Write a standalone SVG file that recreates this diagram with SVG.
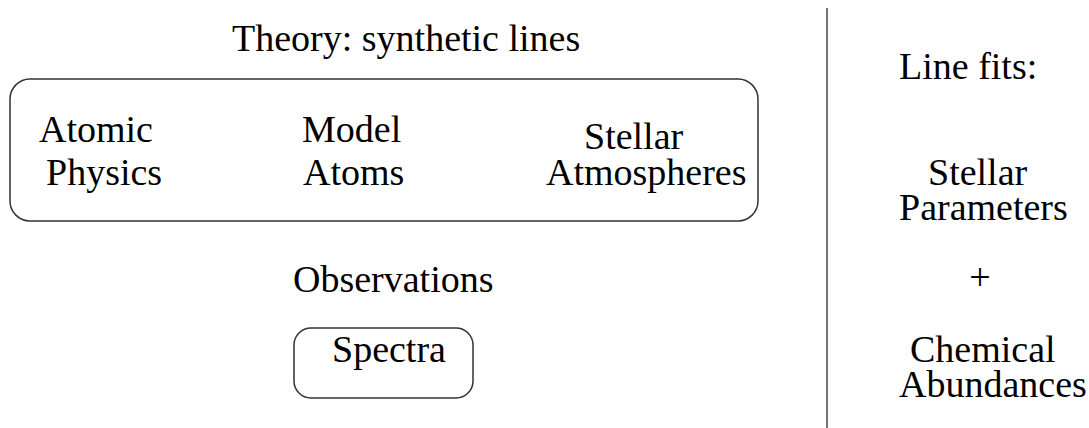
<svg xmlns="http://www.w3.org/2000/svg" width="1089" height="428" viewBox="0 0 1089 428">
  <style>
    text { font-family: 'Liberation Serif', 'DejaVu Serif', serif; font-size: 38px; fill: #000; }
    .box { fill: none; stroke: #333; stroke-width: 1.5; }
    .rule { stroke: #444; stroke-width: 1.5; }
  </style>
  <rect width="1089" height="428" fill="#fff"/>

  <g id="theory" font-family="Liberation Serif, serif">
    <text x="232" y="51">Theory: synthetic lines</text>
    <rect class="box" x="10" y="79" width="748" height="142" rx="20" ry="20"/>
    <g id="atomic-physics">
      <text x="39" y="142">Atomic</text>
      <text x="46" y="185">Physics</text>
    </g>
    <g id="model-atoms">
      <text x="302" y="142">Model</text>
      <text x="303" y="185">Atoms</text>
    </g>
    <g id="stellar-atmospheres">
      <text x="584" y="149">Stellar</text>
      <text x="546" y="185">Atmospheres</text>
    </g>
  </g>

  <g id="observations">
    <text x="293" y="292">Observations</text>
    <g id="spectra">
      <rect class="box" x="294" y="328" width="179" height="70" rx="17" ry="17"/>
      <text x="332" y="362">Spectra</text>
    </g>
  </g>

  <g id="connectors">
    <line class="rule" x1="827" y1="8" x2="827" y2="428"/>
  </g>

  <g id="line-fits">
    <text x="899" y="79">Line fits:</text>
    <g id="stellar-parameters">
      <text x="928" y="185">Stellar</text>
      <text x="899" y="220">Parameters</text>
    </g>
    <text x="980" y="290" text-anchor="middle">+</text>
    <g id="chemical-abundances">
      <text x="910" y="362">Chemical</text>
      <text x="899" y="397">Abundances</text>
    </g>
  </g>
</svg>
